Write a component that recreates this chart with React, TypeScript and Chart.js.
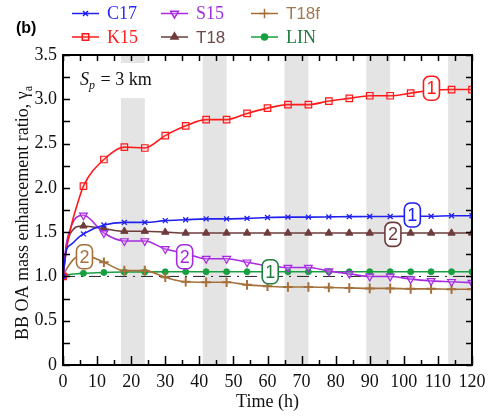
import React, { useEffect, useRef } from 'react';
import { Chart, registerables } from 'chart.js';
import { drawPoint } from 'chart.js/helpers';

Chart.register(...registerables);

// ---- data ----
const markerHours = [0, 6, 12, 18, 24, 30, 36, 42, 48, 54, 60, 66, 72, 78, 84, 90, 96, 102, 108, 114, 120];
const earlyHours = [1, 2, 3, 4];

const c17Values = [1, 1.48, 1.58, 1.61, 1.61, 1.63, 1.64, 1.65, 1.65, 1.655, 1.665, 1.67, 1.67, 1.672, 1.675, 1.677, 1.677, 1.68, 1.68, 1.685, 1.685];
const c17Early = [1.3, 1.35, 1.38, 1.42];
const k15Values = [1, 2.02, 2.32, 2.46, 2.45, 2.59, 2.7, 2.77, 2.77, 2.84, 2.9, 2.94, 2.94, 2.98, 3.01, 3.04, 3.04, 3.07, 3.1, 3.11, 3.11];
const k15Early = [1.3, 1.5, 1.66, 1.79];
const s15Values = [1, 1.69, 1.49, 1.4, 1.4, 1.31, 1.26, 1.2, 1.2, 1.16, 1.12, 1.1, 1.1, 1.06, 1.03, 1.0, 1.0, 0.97, 0.95, 0.94, 0.93];
const s15Early = [1.37, 1.52, 1.62, 1.67];
const t18Values = [1, 1.57, 1.54, 1.51, 1.51, 1.5, 1.49, 1.49, 1.49, 1.49, 1.49, 1.49, 1.49, 1.49, 1.49, 1.49, 1.49, 1.49, 1.49, 1.49, 1.49];
const t18Early = [1.34, 1.47, 1.53, 1.56];
const t18fValues = [1, 1.24, 1.16, 1.065, 1.065, 0.99, 0.94, 0.935, 0.935, 0.905, 0.89, 0.88, 0.88, 0.875, 0.87, 0.865, 0.865, 0.86, 0.86, 0.855, 0.855];
const t18fEarly = [1.08, 1.14, 1.19, 1.22];
const linValues = [1, 1.035, 1.045, 1.05, 1.05, 1.052, 1.052, 1.053, 1.053, 1.053, 1.053, 1.053, 1.053, 1.053, 1.053, 1.053, 1.053, 1.053, 1.053, 1.053, 1.053];
const linEarly = [1.015, 1.022, 1.027, 1.031];

const referenceLevel = 1;
const nightBands = [[17, 24], [41, 48], [65, 72], [89, 96], [113, 120]];

// inline curve labels: [text, hour, value, color]
const curveLabels: [string, number, number, string][] = [
  ['1', 108.1, 3.125, '#ff1a1a'],
  ['1', 102.5, 1.693, '#2020f0'],
  ['2', 96.8, 1.475, '#6e3c3c'],
  ['2', 35.7, 1.222, '#a82ae0'],
  ['1', 60.8, 1.053, '#1e7d3f'],
  ['2', 6.3, 1.222, '#a5703a'],
];

const SERIF = '"Liberation Serif", "Times New Roman", serif';
const SANS = '"Liberation Sans", Arial, sans-serif';

function buildPoints(main: number[], early: number[]) {
  const pts = [{ x: markerHours[0], y: main[0] }];
  early.forEach((v, i) => pts.push({ x: earlyHours[i], y: v }));
  for (let i = 1; i < markerHours.length; i++) pts.push({ x: markerHours[i], y: main[i] });
  return pts;
}

type Spec = {
  label: string; data: number[]; early: number[]; color: string; textColor: string;
  pointStyle: string; radius: number; fill: string; rotation: number; pbw: number; font: string;
};

const seriesSpecs: Spec[] = [
  { label: 'C17', data: c17Values, early: c17Early, color: '#2020f0', textColor: '#2a2aff', pointStyle: 'crossRot', radius: 3.5, fill: '#2020f0', rotation: 0, pbw: 1.3, font: SERIF },
  { label: 'K15', data: k15Values, early: k15Early, color: '#ff1a1a', textColor: '#ff2020', pointStyle: 'rect', radius: 4.6, fill: 'rgba(255,120,120,0.15)', rotation: 0, pbw: 1.2, font: SERIF },
  { label: 'S15', data: s15Values, early: s15Early, color: '#a82ae0', textColor: '#a030e0', pointStyle: 'triangle', radius: 4.5, fill: 'rgba(220,170,255,0.35)', rotation: 180, pbw: 1.2, font: SERIF },
  { label: 'T18', data: t18Values, early: t18Early, color: '#6e3c3c', textColor: '#704848', pointStyle: 'triangle', radius: 4.2, fill: '#6e3c3c', rotation: 0, pbw: 1, font: SANS },
  { label: 'T18f', data: t18fValues, early: t18fEarly, color: '#a5703a', textColor: '#a07a50', pointStyle: 'cross', radius: 4.8, fill: '#a5703a', rotation: 0, pbw: 2, font: SANS },
  { label: 'LIN', data: linValues, early: linEarly, color: '#18a040', textColor: '#207a40', pointStyle: 'circle', radius: 3, fill: '#18a040', rotation: 0, pbw: 1, font: SERIF },
];

// legend layout: [label, column x, row y]
const legendLayout: [string, number, number][] = [
  ['C17', 72, 13.5], ['S15', 161, 13.5], ['T18f', 251, 13.5],
  ['K15', 72, 37], ['T18', 161, 37], ['LIN', 251, 37],
];

function roundRect(ctx: CanvasRenderingContext2D, x: number, y: number, w: number, h: number, r: number) {
  ctx.beginPath();
  ctx.moveTo(x + r, y);
  ctx.lineTo(x + w - r, y);
  ctx.arcTo(x + w, y, x + w, y + r, r);
  ctx.lineTo(x + w, y + h - r);
  ctx.arcTo(x + w, y + h, x + w - r, y + h, r);
  ctx.lineTo(x + r, y + h);
  ctx.arcTo(x, y + h, x, y + h - r, r);
  ctx.lineTo(x, y + r);
  ctx.arcTo(x, y, x + r, y, r);
  ctx.closePath();
}

const decorPlugin = {
  id: 'decor',
  beforeDatasetsDraw(chart: any) {
    const { ctx, chartArea: a, scales } = chart;
    const xs = scales.x;
    ctx.save();
    ctx.fillStyle = '#e4e4e4';
    nightBands.forEach(([s, e]) => {
      const x0 = xs.getPixelForValue(s);
      const x1 = xs.getPixelForValue(e);
      ctx.fillRect(x0, a.top, x1 - x0, a.bottom - a.top);
    });
    ctx.fillStyle = '#ffffff';
    ctx.fillRect(a.left, a.top + 8, 88, 35);
    ctx.restore();
  },
  afterDatasetsDraw(chart: any) {
    const { ctx, scales } = chart;
    ctx.save();
    curveLabels.forEach(([t, hx, vy, col]) => {
      const px = scales.x.getPixelForValue(hx);
      const py = scales.y.getPixelForValue(vy);
      const w = 16, h = 24;
      roundRect(ctx, px - w / 2, py - h / 2, w, h, 6);
      ctx.fillStyle = '#ffffff';
      ctx.fill();
      ctx.lineWidth = 1.6;
      ctx.strokeStyle = col;
      ctx.stroke();
      ctx.fillStyle = col;
      ctx.font = `18px ${SANS}`;
      ctx.textAlign = 'center';
      ctx.textBaseline = 'middle';
      ctx.fillText(t, px, py + 1);
    });
    ctx.restore();
  },
  afterDraw(chart: any) {
    const { ctx, chartArea: a, scales } = chart;
    const xs = scales.x, ys = scales.y;
    ctx.save();
    // ticks
    ctx.strokeStyle = '#000';
    ctx.lineWidth = 1.5;
    ctx.beginPath();
    for (let v = 0; v <= 120; v += 5) {
      const px = Math.round(xs.getPixelForValue(v)) + 0.5;
      const len = v % 10 === 0 ? 9 : 5;
      ctx.moveTo(px, a.bottom); ctx.lineTo(px, a.bottom - len);
      ctx.moveTo(px, a.top); ctx.lineTo(px, a.top + 6);
    }
    for (let i = 0; i <= 14; i++) {
      const v = i * 0.25;
      const py = Math.round(ys.getPixelForValue(v)) + 0.5;
      ctx.moveTo(a.left, py); ctx.lineTo(a.left + 7, py);
      ctx.moveTo(a.right, py); ctx.lineTo(a.right - 6, py);
    }
    ctx.stroke();
    // frame
    ctx.lineWidth = 2;
    ctx.strokeRect(a.left, a.top, a.right - a.left, a.bottom - a.top);

    // x title
    ctx.fillStyle = '#111';
    ctx.font = `18px ${SERIF}`;
    ctx.textAlign = 'center';
    ctx.textBaseline = 'middle';
    ctx.fillText('Time (h)', (a.left + a.right) / 2, 402);

    // y title with subscript
    ctx.save();
    ctx.translate(22, 213);
    ctx.rotate(-Math.PI / 2);
    const main = 'BB OA mass enhancement ratio, \u03b3';
    ctx.font = `18px ${SERIF}`;
    const w1 = ctx.measureText(main).width;
    ctx.font = `12px ${SERIF}`;
    const w2 = ctx.measureText('a').width;
    const start = -(w1 + w2) / 2;
    ctx.textAlign = 'left';
    ctx.textBaseline = 'alphabetic';
    ctx.font = `18px ${SERIF}`;
    ctx.fillText(main, start, 6);
    ctx.font = `12px ${SERIF}`;
    ctx.fillText('a', start + w1, 10);
    ctx.restore();

    // Sp = 3 km
    ctx.textAlign = 'left';
    ctx.textBaseline = 'alphabetic';
    ctx.font = `italic 18px ${SERIF}`;
    ctx.fillText('S', 80, 85);
    const sw = ctx.measureText('S').width;
    ctx.font = `italic 12px ${SERIF}`;
    ctx.fillText('p', 80 + sw, 89);
    const pw = ctx.measureText('p').width;
    ctx.font = `18px ${SERIF}`;
    ctx.fillText(' = 3 km', 80 + sw + pw + 1, 85);

    // panel tag
    ctx.font = `bold 16px ${SANS}`;
    ctx.fillStyle = '#000';
    ctx.textBaseline = 'middle';
    ctx.fillText('(b)', 16, 29);

    // legend
    legendLayout.forEach(([lab, lx, ly]) => {
      const s = seriesSpecs.find((q) => q.label === lab)!;
      ctx.strokeStyle = s.color;
      ctx.lineWidth = 1.5;
      ctx.beginPath();
      ctx.moveTo(lx, ly); ctx.lineTo(lx + 27, ly);
      ctx.stroke();
      ctx.fillStyle = s.fill;
      ctx.strokeStyle = s.color;
      drawPoint(ctx, { pointStyle: s.pointStyle as any, radius: s.radius, borderWidth: s.pbw, rotation: s.rotation }, lx + 13.5, ly);
      ctx.fillStyle = s.textColor;
      ctx.font = s.font === SANS ? `17px ${SANS}` : `18px ${SERIF}`;
      ctx.textAlign = 'left';
      ctx.textBaseline = 'middle';
      ctx.fillText(lab, lx + 35, ly + 1);
    });
    ctx.restore();
  },
};

export default function App() {
  const ref = useRef<HTMLCanvasElement>(null);
  useEffect(() => {
    if (!ref.current) return;
    const datasets: any[] = seriesSpecs.map((s, idx) => ({
      label: s.label,
      data: buildPoints(s.data, s.early),
      borderColor: s.color,
      backgroundColor: s.fill,
      borderWidth: 1.6,
      cubicInterpolationMode: 'monotone',
      pointStyle: s.pointStyle,
      pointRotation: s.rotation,
      pointBorderWidth: s.pbw,
      pointBorderColor: s.color,
      pointBackgroundColor: s.fill,
      pointRadius: (c: any) => (c.raw && c.raw.x % 6 === 0 ? s.radius : 0),
      order: idx,
    }));
    datasets.push({
      label: 'ref',
      data: [{ x: 0, y: referenceLevel }, { x: 120, y: referenceLevel }],
      borderColor: '#222',
      borderWidth: 1,
      borderDash: [12, 6, 2, 6],
      pointRadius: 0,
      order: 20,
    });
    const chart = new Chart(ref.current, {
      type: 'line',
      data: { datasets },
      options: {
        animation: false,
        responsive: false,
        devicePixelRatio: 1,
        layout: { padding: { left: 0, top: 55, right: 21, bottom: 0 } },
        plugins: { legend: { display: false }, tooltip: { enabled: false } },
        scales: {
          x: {
            type: 'linear', min: 0, max: 120,
            grid: { display: false, drawTicks: false },
            border: { display: false },
            ticks: { stepSize: 10, padding: 6, color: '#111', font: { family: SERIF, size: 18 }, maxRotation: 0, autoSkip: false },
            afterFit: (sc: any) => { sc.height = 51; },
          },
          y: {
            min: 0, max: 3.5,
            grid: { display: false, drawTicks: false },
            border: { display: false },
            ticks: { stepSize: 0.5, padding: 6, color: '#111', font: { family: SERIF, size: 18 } },
            afterFit: (sc: any) => { sc.width = 63; },
          },
        },
      },
      plugins: [decorPlugin],
    });
    return () => chart.destroy();
  }, []);
  return (
    <div style={{ position: 'absolute', left: 0, top: 0, width: 493, height: 416, background: '#fff' }}>
      <canvas ref={ref} width={493} height={416} style={{ width: 493, height: 416 }} />
    </div>
  );
}
